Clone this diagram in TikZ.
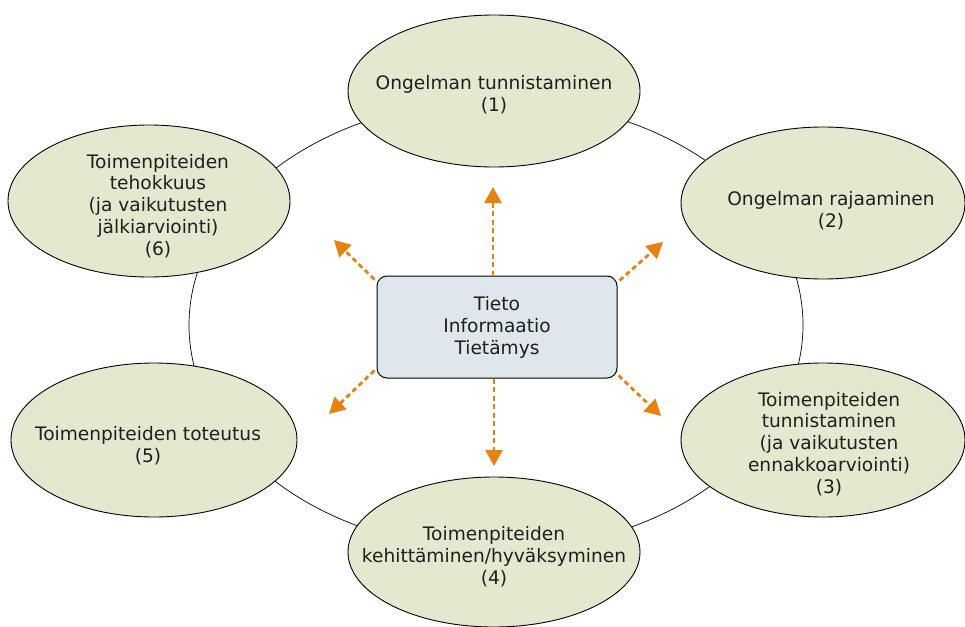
\documentclass[tikz,border=0pt]{standalone}
\usepackage{fontspec}
\setmainfont{DejaVu Sans}
\usetikzlibrary{shapes.geometric,arrows.meta}
\definecolor{ellfill}{HTML}{E5E7CF}
\definecolor{boxfill}{HTML}{DDE7EC}
\definecolor{arrcol}{HTML}{E8820E}
\begin{document}
\begin{tikzpicture}[x=1pt,y=-1pt,
  stage/.style={ellipse, draw=black, line width=0.9pt, fill=ellfill, inner sep=0pt},
  stagetext/.style={align=center, inner sep=0pt, font=\fontsize{18.6}{21.9}\selectfont, text=black!88},
  centerbox/.style={draw=black, line width=1pt, fill=boxfill, rounded corners=10pt, minimum width=240pt, minimum height=102pt, align=center, font=\fontsize{18.6}{21.9}\selectfont, text=black!88},
  flow/.style={draw=arrcol, line width=2.8pt, dash pattern=on 5pt off 3.5pt, -{Triangle[length=16pt,width=17pt]}},
  ring/.style={draw=black, line width=0.7pt}]
\useasboundingbox (0,0) rectangle (965,626);
\draw[ring] (496,325) ellipse [x radius=307, y radius=225];
% stages
\node[stage, minimum width=292pt, minimum height=152pt] (e1) at (494,91) {};
\node[stagetext] (t1) at (494,95) {Ongelman tunnistaminen\\(1)};
\node[stage, minimum width=284pt, minimum height=152pt] (e2) at (823,203) {};
\node[stagetext] (t2) at (831,211) {Ongelman rajaaminen\\(2)};
\node[stage, minimum width=284pt, minimum height=154pt] (e3) at (823,440) {};
\node[stagetext] (t3) at (829,444) {Toimenpiteiden\\tunnistaminen\\(ja vaikutusten\\ennakkoarviointi)\\(3)};
\node[stage, minimum width=292pt, minimum height=150pt] (e4) at (494,552) {};
\node[stagetext] (t4) at (494,557) {Toimenpiteiden\\kehittäminen/hyväksyminen\\(4)};
\node[stage, minimum width=286pt, minimum height=154pt] (e5) at (154,440) {};
\node[stagetext] (t5) at (148,446) {Toimenpiteiden toteutus\\(5)};
\node[stage, minimum width=282pt, minimum height=152pt] (e6) at (149,201) {};
\node[stagetext] (t6) at (158,206) {Toimenpiteiden\\tehokkuus\\(ja vaikutusten\\jälkiarviointi)\\(6)};
% center
\node[centerbox] (c) at (497,327) {Tieto\\Informaatio\\Tietämys};
% arrows
\coordinate (a1) at (493,187);
\coordinate (a2) at (663,242);
\coordinate (a3) at (661,416);
\coordinate (a4) at (494,466);
\coordinate (a5) at (329,414);
\coordinate (a6) at (334,240);
\draw[flow] ([xshift=-4pt]c.north) -- (a1);
\draw[flow] ([xshift=2pt,yshift=-5pt]c.north east) -- (a2);
\draw[flow] ([xshift=1pt,yshift=3pt]c.south east) -- (a3);
\draw[flow] ([xshift=-3pt]c.south) -- (a4);
\draw[flow] ([xshift=-2pt,yshift=8pt]c.south west) -- (a5);
\draw[flow] ([xshift=-2pt,yshift=-4pt]c.north west) -- (a6);
\end{tikzpicture}
\end{document}
